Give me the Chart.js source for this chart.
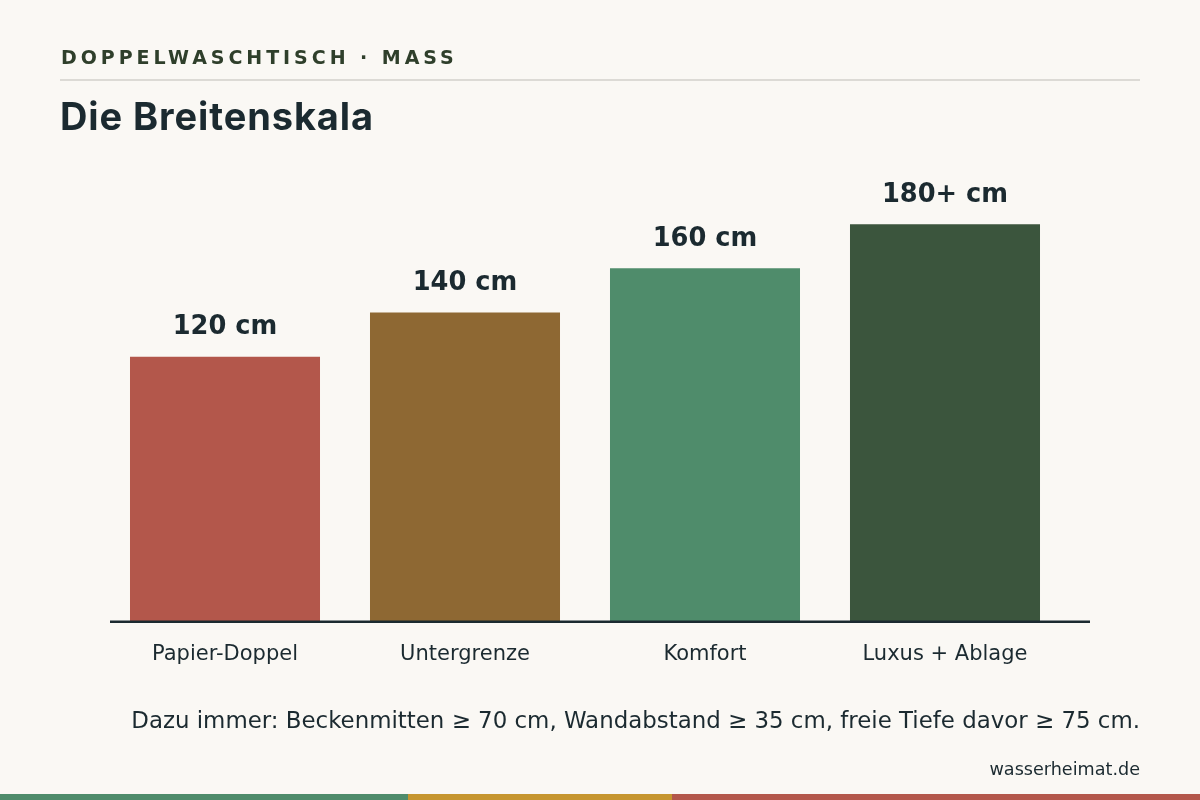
<!DOCTYPE html>
<html>
<head>
<meta charset="utf-8">
<script src="https://cdn.jsdelivr.net/npm/chart.js@4"></script>
<style>
  body { margin: 0; background: #faf8f4; }
  #wrap { position: relative; width: 1200px; height: 800px; overflow: hidden; background: #faf8f4; }
  #kicker { position: absolute; left: 61px; top: 46px; font: bold 19px "DejaVu Sans", sans-serif; letter-spacing: 3.95px; color: #2f3f2b; }
  #rule { position: absolute; left: 60px; top: 79px; width: 1080px; height: 2px; background: #dcdad5; }
  #title { position: absolute; left: 60px; top: 93px; font: 700 38px Inter, sans-serif; letter-spacing: 0.9px; color: #1b2a30; }
  #note { position: absolute; right: 60px; top: 707px; font: 22.9px "DejaVu Sans", sans-serif; color: #1b2a30; }
  #source { position: absolute; right: 60px; top: 759px; font: 17.6px "DejaVu Sans", sans-serif; color: #1b2a30; }
  #stripe { position: absolute; left: 0; top: 794px; width: 1200px; height: 6px; display: flex; }
  #stripe div { height: 6px; }
  canvas { position: absolute; left: 0; top: 0; }
</style>
</head>
<body>
<div id="wrap">
  <canvas id="chart" width="1200" height="800"></canvas>
  <div id="kicker">DOPPELWASCHTISCH · MASS</div>
  <div id="rule"></div>
  <div id="title">Die Breitenskala</div>
  <div id="note">Dazu immer: Beckenmitten ≥ 70 cm, Wandabstand ≥ 35 cm, freie Tiefe davor ≥ 75 cm.</div>
  <div id="source">wasserheimat.de</div>
  <div id="stripe">
    <div style="width:408px;background:#4f8c6b"></div>
    <div style="width:264px;background:#c6962f"></div>
    <div style="width:528px;background:#b3574b"></div>
  </div>
</div>
<script>
const categories = ['Papier-Doppel', 'Untergrenze', 'Komfort', 'Luxus + Ablage'];
const widths = [120, 140, 160, 180];
const valueLabels = ['120 cm', '140 cm', '160 cm', '180+ cm'];
const barColors = ['#b3574b', '#8e6833', '#4f8c6b', '#3b553d'];

// baseline under the bars, a bit wider than the plot
const baseLine = {
    id: 'baseLine',
    afterDatasetsDraw(chart) {
        const ctx = chart.ctx;
        const y = chart.scales.y.getPixelForValue(0);
        ctx.save();
        ctx.strokeStyle = '#1b2a30';
        ctx.lineWidth = 2.5;
        ctx.beginPath();
        ctx.moveTo(110, y);
        ctx.lineTo(1090, y);
        ctx.stroke();
        ctx.restore();
    }
};

const barLabels = {
    id: 'barLabels',
    afterDatasetsDraw(chart) {
        const ctx = chart.ctx;
        const meta = chart.getDatasetMeta(0);
        ctx.save();
        ctx.font = 'bold 25.7px "DejaVu Sans", sans-serif';
        ctx.fillStyle = '#1b2a30';
        ctx.textAlign = 'center';
        ctx.textBaseline = 'middle';
        meta.data.forEach((bar, i) => {
            ctx.fillText(valueLabels[i], bar.x, bar.y - 29);
        });
        ctx.restore();
    }
};

new Chart(document.getElementById('chart').getContext('2d'), {
    type: 'bar',
    data: {
        labels: categories,
        datasets: [{
            data: widths,
            backgroundColor: barColors,
            borderWidth: 0,
            barPercentage: 0.7917,
            categoryPercentage: 1
        }]
    },
    options: {
        responsive: false,
        animation: false,
        layout: { padding: { left: 105, right: 135, top: 180, bottom: 121 } },
        plugins: { legend: { display: false }, tooltip: { enabled: false } },
        scales: {
            x: {
                grid: { display: false },
                border: { display: false },
                ticks: {
                    color: '#1b2a30',
                    font: { family: 'DejaVu Sans', size: 21 },
                    padding: 12
                }
            },
            y: {
                display: false,
                min: 0,
                max: 200
            }
        }
    },
    plugins: [baseLine, barLabels]
});
</script>
</body>
</html>
